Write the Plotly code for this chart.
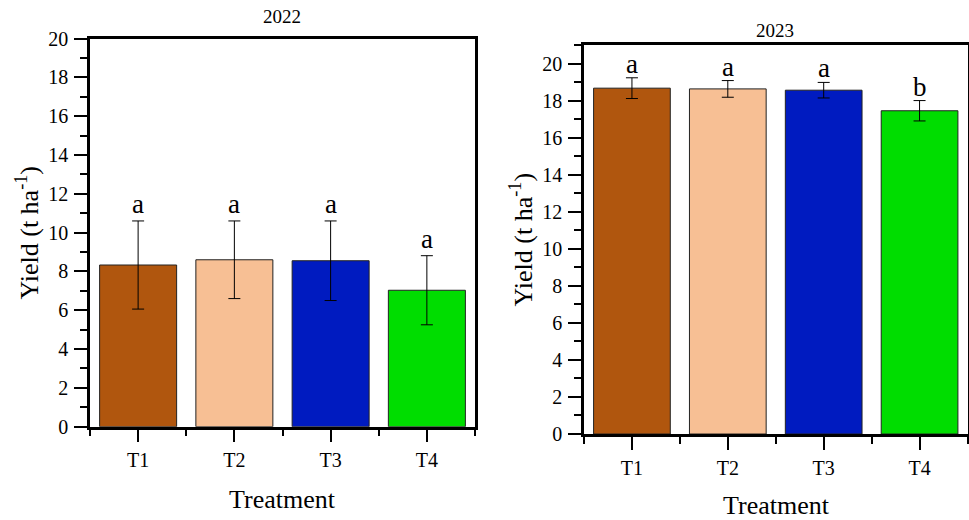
import plotly.graph_objects as go

categories = ["T1", "T2", "T3", "T4"]
colors = ["#B0560E", "#F7BF94", "#001BC0", "#00DD00"]

yield_2022 = [8.33, 8.60, 8.55, 7.03]
err_2022 = [2.27, 2.00, 2.05, 1.78]
letters_2022 = ["a", "a", "a", "a"]

yield_2023 = [18.67, 18.63, 18.56, 17.45]
err_2023 = [0.56, 0.45, 0.42, 0.55]
letters_2023 = ["a", "a", "a", "b"]

FONT = "Liberation Serif, Times New Roman, serif"
W, H = 969, 520

def px_x(v):
    return v / W

def px_y(v):
    return 1 - v / H

xpos = list(range(len(categories)))

fig = go.Figure()
for vals, errs, xa, ya in [(yield_2022, err_2022, "x", "y"), (yield_2023, err_2023, "x2", "y2")]:
    fig.add_trace(go.Bar(
        x=xpos, y=vals, xaxis=xa, yaxis=ya, width=0.8,
        marker=dict(color=colors, line=dict(color="#222222", width=1)),
        error_y=dict(type="data", array=errs, color="black", thickness=1, width=6),
        showlegend=False,
    ))

axis_common = dict(
    showline=True, linewidth=2.5, linecolor="black", mirror=True, automargin=False,
    ticks="outside", tickwidth=2, tickcolor="black", showgrid=False, zeroline=False,
    tickfont=dict(family=FONT, size=20, color="black"),
)

fig.update_layout(
    template="none",
    width=W, height=H, margin=dict(l=0, r=0, t=0, b=0, pad=0),
    plot_bgcolor="white", paper_bgcolor="white",
    font=dict(family=FONT, color="black"),
    bargap=0.2,
    xaxis=dict(domain=[px_x(90), px_x(475)], range=[-0.5, 3.5], tickvals=xpos, ticktext=categories,
               ticklen=13, minor=dict(ticks="outside", tick0=0.5, dtick=1, ticklen=7, tickwidth=2, tickcolor="black"),
               anchor="y", ticklabelstandoff=1, **axis_common),
    yaxis=dict(domain=[px_y(426.7), px_y(38.5)], range=[0, 20], dtick=2, tick0=0,
               ticklen=13, minor=dict(ticks="outside", dtick=1, ticklen=7, tickwidth=2, tickcolor="black"),
               anchor="x", ticklabelstandoff=2, **axis_common),
    xaxis2=dict(domain=[px_x(584), px_x(967.5)], range=[-0.5, 3.5], tickvals=xpos, ticktext=categories,
                ticklen=13, minor=dict(ticks="outside", tick0=0.5, dtick=1, ticklen=7, tickwidth=2, tickcolor="black"),
                anchor="y2", ticklabelstandoff=1, **axis_common),
    yaxis2=dict(domain=[px_y(434), px_y(45)], range=[0, 21], dtick=2, tick0=0,
                ticklen=13, minor=dict(ticks="outside", dtick=1, ticklen=7, tickwidth=2, tickcolor="black"),
                anchor="x2", ticklabelstandoff=2, **axis_common),
)

ann = []
for i, (v, e, l) in enumerate(zip(yield_2022, err_2022, letters_2022)):
    ann.append(dict(x=i, y=v + e, xref="x", yref="y", text=l, showarrow=False,
                    yanchor="bottom", yshift=0, font=dict(family=FONT, size=27, color="black")))
for i, (v, e, l) in enumerate(zip(yield_2023, err_2023, letters_2023)):
    ann.append(dict(x=i, y=v + e, xref="x2", yref="y2", text=l, showarrow=False,
                    yanchor="bottom", yshift=-3, font=dict(family=FONT, size=27, color="black")))

titles = [("2022", 282, 17), ("2023", 775, 30)]
for t, cx, cy in titles:
    ann.append(dict(x=px_x(cx), y=px_y(cy), xref="paper", yref="paper", text=t, showarrow=False,
                    xanchor="center", yanchor="middle", font=dict(family=FONT, size=19, color="black")))

xtitles = [("Treatment", 282.5, 499), ("Treatment", 776, 505)]
for t, cx, cy in xtitles:
    ann.append(dict(x=px_x(cx), y=px_y(cy), xref="paper", yref="paper", text=t, showarrow=False,
                    xanchor="center", yanchor="middle", borderpad=0,
                    font=dict(family=FONT, size=26, color="black")))

ytitle = "Yield (t ha<sup>-1</sup>)"
for cx, cy in [(28, 232.6), (522, 239.5)]:
    ann.append(dict(x=px_x(cx), y=px_y(cy), xref="paper", yref="paper", text=ytitle, showarrow=False,
                    textangle=-90, xanchor="center", yanchor="middle",
                    font=dict(family=FONT, size=26, color="black")))

fig.update_layout(annotations=ann)
fig.write_html("out.html")
